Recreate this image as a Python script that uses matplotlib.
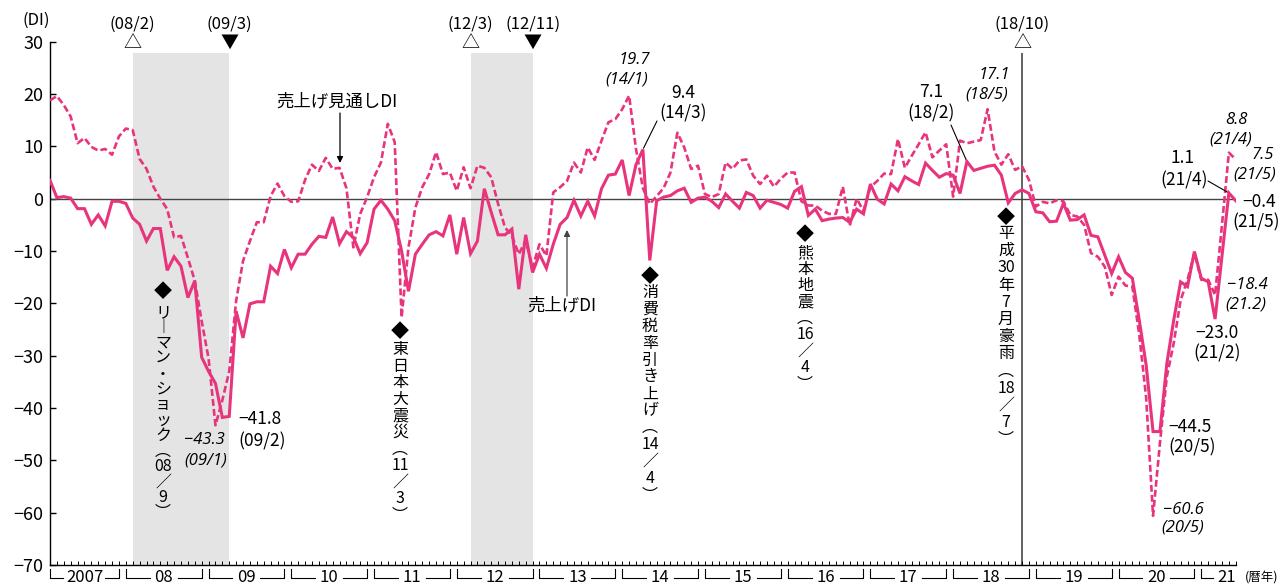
import matplotlib
matplotlib.use('Agg')
import matplotlib.pyplot as plt

plt.rcParams['font.family'] = ['Noto Sans CJK JP', 'DejaVu Sans']

# monthly values, 2007/1 .. 2021/5
sales_di = [
    3.5, 0.2, 0.4, 0.1, -1.9, -1.9, -4.9, -3.1, -5.2, -0.5, -0.5, -0.9,        # 2007
    -3.7, -4.9, -8.1, -5.7, -5.7, -13.7, -11.1, -12.9, -18.9, -15.7, -30.3, -33.0,  # 2008
    -35.3, -41.8, -41.6, -21.5, -26.6, -20.1, -19.7, -19.7, -12.9, -14.3, -9.7, -13.2,  # 2009
    -10.6, -10.6, -8.7, -7.2, -7.4, -3.5, -8.6, -6.3, -7.4, -10.5, -8.4, -2.0,  # 2010
    -0.3, -2.0, -4.2, -10.0, -17.7, -10.6, -8.7, -6.9, -6.3, -7.1, -3.1, -10.6,  # 2011
    -3.6, -10.5, -8.1, 1.9, -2.6, -6.9, -6.9, -5.8, -17.3, -6.9, -14.1, -10.6,  # 2012
    -13.3, -8.7, -4.9, -3.6, -0.3, -3.3, -0.5, -3.3, 1.9, 4.5, 4.7, 7.4,  # 2013
    0.6, 6.5, 9.4, -11.8, -0.4, 0.3, 0.6, 1.5, 2.0, -0.7, 0.1, 0.3,  # 2014
    -0.5, -1.7, 0.9, -0.5, -1.8, 1.2, 0.6, -1.8, -0.3, -0.7, -1.1, -1.8,  # 2015
    1.4, 2.3, -3.2, -2.0, -4.2, -3.9, -3.7, -3.6, -4.5, -2.0, -2.9, 2.8,  # 2016
    -0.1, -1.0, 2.8, 1.5, 4.2, 3.4, 2.7, 6.8, 5.4, 4.1, 4.8, 4.5,  # 2017
    1.0, 7.1, 5.4, 5.8, 6.2, 6.4, 4.5, -0.8, 1.0, 1.7, 1.0, -2.5,  # 2018
    -2.7, -4.4, -4.3, -0.9, -4.1, -4.0, -3.1, -7.0, -7.3, -10.8, -14.3, -11.1,  # 2019
    -14.1, -15.2, -23.2, -31.8, -44.5, -44.5, -31.5, -23.2, -15.9, -16.8, -10.1, -15.2,  # 2020
    -15.9, -23.0, -11.0, 1.1, -0.4,  # 2021
]
outlook_di = [
    18.8, 19.6, 17.9, 15.7, 10.6, 11.6, 9.9, 9.2, 9.5, 8.4, 11.9, 13.4,  # 2007
    13.1, 7.6, 5.7, 2.3, 0.0, -2.0, -7.4, -7.1, -11.3, -15.7, -23.4, -30.5,  # 2008
    -43.3, -38.5, -33.0, -19.5, -11.9, -8.1, -4.5, -4.5, 0.5, 2.9, 0.5, -0.6,  # 2009
    -0.5, 3.6, 6.5, 5.3, 7.8, 5.7, 5.9, 2.0, -9.3, -2.9, 0.3, 4.1,  # 2010
    6.9, 14.3, 10.8, -22.7, -9.3, -1.7, 2.2, 4.7, 8.9, 4.7, 5.0, 1.5,  # 2011
    6.0, 2.0, 6.3, 5.9, 4.1, -1.0, -5.5, -7.1, -10.6, -8.0, -13.1, -8.7,  # 2012
    -10.9, 1.2, 2.2, 3.4, 6.9, 5.0, 9.8, 7.4, 11.1, 14.6, 15.2, 17.1,  # 2013
    19.7, 9.5, 2.0, -1.0, 0.5, 2.0, 5.0, 12.6, 9.8, 5.7, 6.3, 0.9,  # 2014
    0.3, 0.9, 6.9, 5.7, 7.3, 7.5, 4.4, 2.8, 4.4, 2.3, 3.8, 5.0,  # 2015
    5.0, -0.5, -1.3, -1.3, -2.3, -2.9, -2.9, 2.3, -5.2, 0.0, -2.3, 2.2,  # 2016
    3.4, 4.8, 4.7, 11.4, 5.9, 8.2, 10.4, 12.7, 7.9, 9.2, 10.4, 0.4,  # 2017
    11.1, 10.6, 10.9, 11.2, 17.1, 9.0, 6.5, 8.5, 5.5, 6.2, 3.6, -1.5,  # 2018
    -0.6, -0.9, -0.3, -0.5, -3.1, -3.4, -5.0, -10.4, -11.1, -13.0, -18.4, -14.9,  # 2019
    -16.6, -16.8, -26.0, -38.0, -60.6, -46.7, -34.0, -27.6, -19.4, -15.5, -10.4, -15.5,  # 2020
    -15.5, -18.4, -5.0, 8.8, 7.5,  # 2021
]

year_labels = ['2007', '08', '09', '10', '11', '12', '13', '14', '15', '16',
               '17', '18', '19', '20', '21']
y_ticks = [30, 20, 10, 0, -10, -20, -30, -40, -50, -60, -70]

# 景気の山(△)と谷(▼)
peaks = ['08/2', '12/3']
troughs = ['09/3', '12/11']
latest_peak = '18/10'

PINK = '#e8347c'
W, H = 1280, 587

# reference geometry: pixel of 2007/1, pixels per month, pixel of 0, pixels per DI point
X0, DX = 50, 6.894
Y0, DY = 198.7, 5.233
XMAX = (1236 - X0) / DX
SHADE_TOP = 27.8


def mi(s):
    yy, mm = s.split('/')
    return (int(yy) + 2000 - 2007) * 12 + int(mm) - 1


def px(x, y):
    # position measured on the reference picture -> data coordinates
    return (x - X0) / DX, (Y0 - y) / DY


fig = plt.figure(figsize=(W / 100, H / 100), dpi=100)
ax = fig.add_axes([X0 / W, 1 - 565 / H, (1236 - X0) / W, (565 - 41.7) / H])
ax.set_xlim(0, XMAX)
ax.set_ylim(-70, 30)

months = list(range(len(sales_di)))

# shaded recessions
for p, t in zip(peaks, troughs):
    ax.fill_between([mi(p) - 1, mi(t)], -70, SHADE_TOP, color='#e4e4e4', lw=0, zorder=0)
    ax.text(mi(p) - 1, px(0, 43)[1], '△', ha='center', va='center', fontsize=13)
    ax.text(mi(t), px(0, 43)[1], '▼', ha='center', va='center', fontsize=13)
    ax.text(mi(p) - 1, px(0, 24)[1], '(' + p + ')', ha='center', va='center', fontsize=12)
    ax.text(mi(t), px(0, 24)[1], '(' + t + ')', ha='center', va='center', fontsize=12)

ax.vlines(mi(latest_peak), -70, SHADE_TOP, color='#555555', lw=1.3, zorder=1)
ax.text(mi(latest_peak), px(0, 43)[1], '△', ha='center', va='center', fontsize=13)
ax.text(mi(latest_peak), px(0, 24)[1], '(' + latest_peak + ')', ha='center', va='center',
        fontsize=12)

ax.axhline(0, color='#444444', lw=1.0, zorder=2)

ax.plot(months, outlook_di, color=PINK, lw=1.9, dashes=(2.6, 1.2), zorder=3)
ax.plot(months, sales_di, color=PINK, lw=2.2, zorder=4, solid_joinstyle='miter')

# axes
for side in ['top', 'right']:
    ax.spines[side].set_visible(False)
for side in ['left', 'bottom']:
    ax.spines[side].set_linewidth(1.0)
ax.set_yticks(y_ticks)
ax.set_yticklabels([str(v).replace('-', '−') for v in y_ticks], fontsize=13)
ax.tick_params(axis='y', direction='in', length=4, width=1.0, pad=5)
ax.set_xticks(months)
ax.set_xticklabels([])
ax.tick_params(axis='x', direction='in', length=3, width=0.7)

# year brackets under the axis
yb_top, yb_bot = px(0, 569)[1], px(0, 578)[1]
for k, lab in enumerate(year_labels):
    left = 0 if k == 0 else 12 * k - 1
    last = k == len(year_labels) - 1
    right = None if last else 12 * k + 10
    center = left + 3.7 if last else (left + right) / 2
    gap = (7 + 3.5 * len(lab)) / DX
    ax.plot([left, left, center - gap], [yb_top, yb_bot, yb_bot], color='black', lw=0.8,
            clip_on=False)
    if right is not None:
        ax.plot([center + gap, right, right], [yb_bot, yb_bot, yb_top], color='black',
                lw=0.8, clip_on=False)
    ax.text(center, yb_bot, lab, ha='center', va='center', fontsize=12)
ax.text(*px(1262, 578), '(暦年)', ha='center', va='center', fontsize=9)
ax.text(*px(36, 20), '(DI)', ha='center', va='center', fontsize=12)

# series names
ax.text(*px(337, 101), '売上げ見通しDI', ha='center', va='center', fontsize=12.5,
        style='italic')
ax.annotate('', xy=px(340, 163), xytext=px(340, 113),
            arrowprops=dict(arrowstyle='-|>', lw=0.9, color='black', mutation_scale=9,
                            shrinkA=0, shrinkB=0))
ax.text(*px(562, 305), '売上げDI', ha='center', va='center', fontsize=12.5)
ax.annotate('', xy=px(567, 230), xytext=px(567, 296),
            arrowprops=dict(arrowstyle='-|>', lw=0.9, color='#444444', mutation_scale=9,
                            shrinkA=0, shrinkB=0))

# events, written top to bottom
events = [
    (['リ', '︱', 'マ', 'ン', '・', 'シ', 'ョ', 'ッ', 'ク', '︵', '08', '／', '9', '︶'],
     163, 292, 20.5, 15.4),
    (['東', '日', '本', '大', '震', '災', '︵', '11', '／', '3', '︶'], 400, 332, 17.5, 16.6),
    (['消', '費', '税', '率', '引', 'き', '上', 'げ', '︵', '14', '／', '4', '︶'],
     650, 277, 15.5, 16.9),
    (['熊', '本', '地', '震', '︵', '16', '／', '4', '︶'], 805, 235, 18, 16.4),
    (['平', '成', '30', '年', '7', '月', '豪', '雨', '︵', '18', '／', '7', '︶'],
     1006, 218, 15.5, 17.2),
]
for tokens, x, y, first, pitch in events:
    ax.text(*px(x, y), '◆', ha='center', va='center', fontsize=13)
    for n, tok in enumerate(tokens):
        ax.text(*px(x, y + first + n * pitch), tok, ha='center', va='center', fontsize=11.5)

# value labels: (top line, x, y, bottom line, x, y, italic)
ITAL = ['Open Sans', 'DejaVu Sans']
value_labels = [
    ('−43.3', 204, 440, '(09/1)', 206, 461, True),
    ('−41.8', 260, 419, '(09/2)', 262, 441, False),
    ('19.7', 634, 60, '(14/1)', 627, 80, True),
    ('9.4', 683, 93, '(14/3)', 683, 113, False),
    ('7.1', 931, 92, '(18/2)', 931, 113, False),
    ('17.1', 994, 75, '(18/5)', 987, 95, True),
    ('1.1', 1182, 158, '(21/4)', 1184, 180, False),
    ('8.8', 1236, 120, '(21/4)', 1231, 140, True),
    ('7.5', 1263, 155, '(21/5)', 1255, 175, True),
    ('−0.4', 1259, 202, '(21/5)', 1256, 222, False),
    ('−18.4', 1247, 285, '(21.2)', 1246, 305, True),
    ('−23.0', 1217, 333, '(21/2)', 1217, 353, False),
    ('−44.5', 1190, 427, '(20/5)', 1192, 447, False),
    ('−60.6', 1183, 510, '(20/5)', 1183, 528, True),
]
for t1, x1, y1, t2, x2, y2, it in value_labels:
    kw = dict(ha='center', va='center', fontsize=12.5)
    if it:
        kw.update(family=ITAL, style='italic', fontsize=12)
    ax.text(*px(x1, y1), t1, **kw)
    ax.text(*px(x2, y2), t2, **kw)

# leader lines
for i, xy in [(mi('14/3'), (657, 121)), (mi('18/2'), (951, 125)), (mi('21/4'), (1208, 181))]:
    ax.annotate('', xy=(i, sales_di[i]), xytext=px(*xy),
                arrowprops=dict(arrowstyle='-', lw=0.8, color='black', shrinkA=0, shrinkB=1))

fig.savefig('out.png', dpi=100)
